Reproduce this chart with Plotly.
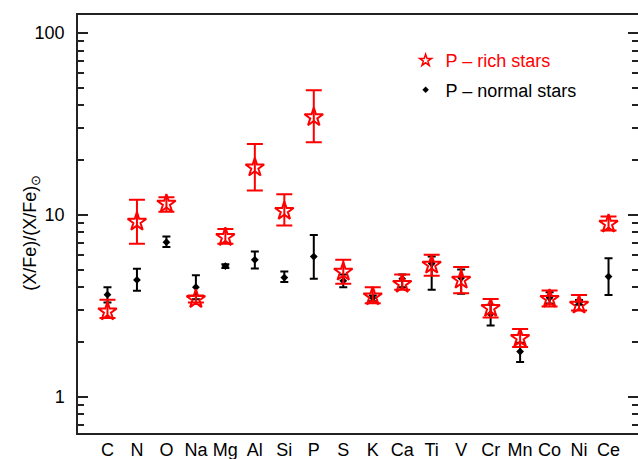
import plotly.graph_objects as go

elements = ["C", "N", "O", "Na", "Mg", "Al", "Si", "P", "S", "K", "Ca", "Ti", "V", "Cr", "Mn", "Co", "Ni", "Ce"]

rich_val = [2.94, 9.15, 11.5, 3.44, 7.54, 18.2, 10.5, 34.4, 4.86, 3.56, 4.17, 5.31, 4.39, 3.07, 2.10, 3.45, 3.20, 8.92]
rich_hi = [3.41, 12.1, 12.5, 3.60, 8.35, 24.5, 13.0, 48.4, 5.66, 4.00, 4.70, 6.03, 5.16, 3.45, 2.36, 3.84, 3.62, 9.79]
rich_lo = [2.71, 6.93, 10.4, 3.30, 6.93, 13.6, 8.74, 25.1, 4.18, 3.27, 3.87, 4.62, 3.71, 2.73, 1.875, 3.13, 2.98, 8.20]

norm_val = [3.64, 4.39, 7.08, 4.00, 5.23, 5.66, 4.52, 5.90, 4.34, 3.50, 4.45, 5.40, 4.50, 2.85, 1.77, 3.50, 3.30, 4.58]
norm_hi = [4.00, 5.05, 7.60, 4.66, 5.35, 6.29, 4.88, 7.74, 4.70, 3.60, 4.70, 5.90, 5.00, 3.20, 1.98, 3.75, 3.40, 5.78]
norm_lo = [3.30, 3.82, 6.65, 3.43, 5.10, 5.07, 4.27, 4.45, 4.00, 3.35, 4.00, 3.87, 3.68, 2.46, 1.55, 3.25, 3.20, 3.63]

legend_rich = "P – rich stars"
legend_norm = "P – normal stars"
y_title = "(X/Fe)/(X/Fe)<sub>⊙</sub>"

FONT = "Liberation Sans, Arial, Helvetica, sans-serif"

fig = go.Figure()

fig.add_trace(go.Scatter(
    x=elements, y=norm_val, mode="markers", showlegend=False,
    marker=dict(symbol="diamond", size=6, color="black"),
    error_y=dict(type="data", symmetric=False,
                 array=[h - v for h, v in zip(norm_hi, norm_val)],
                 arrayminus=[v - l for v, l in zip(norm_val, norm_lo)],
                 color="black", thickness=2, width=4),
))

fig.add_trace(go.Scatter(
    x=elements, y=rich_val, mode="markers", showlegend=False,
    marker=dict(symbol="star-open", size=14, color="red", line=dict(width=2, color="red")),
    error_y=dict(type="data", symmetric=False,
                 array=[h - v for h, v in zip(rich_hi, rich_val)],
                 arrayminus=[v - l for v, l in zip(rich_val, rich_lo)],
                 color="red", thickness=2, width=8),
))

# legend entries
fig.add_trace(go.Scatter(
    x=[None], y=[None], mode="markers", legendrank=1, legendgroup="a",
    name="<span style='color:red'>" + legend_rich + "</span>",
    marker=dict(symbol="star-open", size=9, color="red", line=dict(width=1.5, color="red")),
))
fig.add_trace(go.Scatter(
    x=[None], y=[None], mode="markers", legendrank=2, legendgroup="b",
    name=legend_norm,
    marker=dict(symbol="diamond", size=5, color="black"),
))

yrange = [-0.1995, 2.0989]

fig.update_layout(
    width=638, height=459,
    margin=dict(l=78, r=0, t=15, b=26),
    paper_bgcolor="white", plot_bgcolor="white",
    font=dict(family=FONT, size=18, color="black"),
    showlegend=True,
    legend=dict(x=0.585, y=0.935, xanchor="left", yanchor="top",
                bgcolor="rgba(0,0,0,0)", font=dict(size=18, color="black"),
                traceorder="grouped", tracegroupgap=3, itemsizing="trace"),
    xaxis=dict(type="category", range=[-1, 18], showline=True, linecolor="#222", linewidth=1.5,
               mirror=True, ticks="", showgrid=False, zeroline=False, automargin=False,
               tickfont=dict(size=18)),
    yaxis=dict(type="log", range=yrange, showline=True, linecolor="#222", linewidth=1.5,
               ticks="inside", ticklen=10, tickwidth=1.5, tickcolor="#222",
               tickvals=[1, 10, 100], ticktext=["1", "10", "100"], tickfont=dict(size=18),
               minor=dict(ticks="inside", ticklen=6, tickwidth=1.5, tickcolor="#222", dtick="D1"),
               showgrid=False, zeroline=False, ticklabelstandoff=8, automargin=False),
    yaxis2=dict(type="log", range=yrange, overlaying="y", side="right", showline=False,
                ticks="inside", ticklen=10, tickwidth=1.5, tickcolor="#222",
                tickvals=[1, 10, 100], showticklabels=False, automargin=False,
                minor=dict(ticks="inside", ticklen=6, tickwidth=1.5, tickcolor="#222", dtick="D1"),
                showgrid=False, zeroline=False),
    annotations=[dict(text=y_title, xref="paper", yref="paper", x=-0.082, y=0.479,
                      xanchor="center", yanchor="middle", textangle=-90, showarrow=False,
                      font=dict(size=18, color="black"))],
)

# invisible trace to activate the right-hand axis
fig.add_trace(go.Scatter(x=[elements[0]], y=[rich_val[0]], yaxis="y2", mode="markers",
                         marker=dict(opacity=0), showlegend=False, hoverinfo="skip"))

fig.write_html("out.html", config={"displayModeBar": False},
               post_script="document.body.style.margin='0px';document.body.style.overflow='hidden';")
